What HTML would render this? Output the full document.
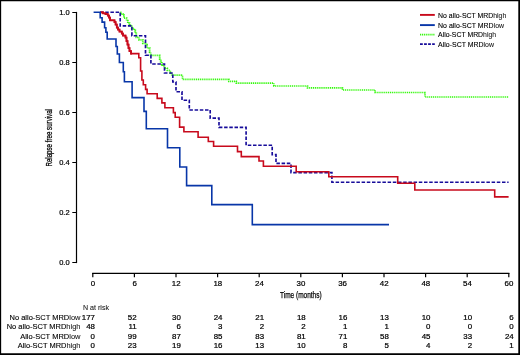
<!DOCTYPE html>
<html><head><meta charset="utf-8">
<style>
html,body{margin:0;padding:0;background:#fff;}
svg{display:block;will-change:transform;}
text{font-family:"Liberation Sans",sans-serif;font-size:7.9px;fill:#000;stroke:#000;stroke-width:0.12px;}
.l{stroke:#222;stroke-width:0.1px;fill:#222;}
.n{stroke-width:0.22px;}
.t{stroke-width:0.25px;}
</style></head>
<body>
<svg width="520" height="355" viewBox="0 0 520 355">
<rect x="0" y="0" width="520" height="355" fill="#fff"/>
<path fill="#000" d="M0,0H520V355H0Z M1.15,1.2V353.2H518.3V1.2Z" fill-rule="evenodd"/>
<g stroke="#000" stroke-width="1.2" fill="none">
<path d="M76.5,11.9 V263.1"/>
<path d="M72.3,12.5 H76.5 M72.3,62.5 H76.5 M72.3,112.5 H76.5 M72.3,162.5 H76.5 M72.3,212.5 H76.5 M72.3,262.5 H76.5"/>
<path d="M92.2,273.4 H509.4" stroke-width="1.15"/>
<path d="M92.8,273 V277.3 M134.4,273 V277.3 M176,273 V277.3 M217.6,273 V277.3 M259.2,273 V277.3 M300.8,273 V277.3 M342.4,273 V277.3 M384,273 V277.3 M425.6,273 V277.3 M467.2,273 V277.3 M508.8,273 V277.3"/>
</g>
<text transform="translate(69.60,15.40) scale(0.950,1)" text-anchor="end" class="n" style="font-size:7.9px">1.0</text>
<text transform="translate(69.60,65.40) scale(0.950,1)" text-anchor="end" class="n" style="font-size:7.9px">0.8</text>
<text transform="translate(69.60,115.40) scale(0.950,1)" text-anchor="end" class="n" style="font-size:7.9px">0.6</text>
<text transform="translate(69.60,165.40) scale(0.950,1)" text-anchor="end" class="n" style="font-size:7.9px">0.4</text>
<text transform="translate(69.60,215.40) scale(0.950,1)" text-anchor="end" class="n" style="font-size:7.9px">0.2</text>
<text transform="translate(69.60,265.40) scale(0.950,1)" text-anchor="end" class="n" style="font-size:7.9px">0.0</text>
<text transform="translate(93.00,286.10) scale(1.000,1)" text-anchor="middle" class="n" style="font-size:7.9px">0</text>
<text transform="translate(134.60,286.10) scale(1.000,1)" text-anchor="middle" class="n" style="font-size:7.9px">6</text>
<text transform="translate(176.20,286.10) scale(1.000,1)" text-anchor="middle" class="n" style="font-size:7.9px">12</text>
<text transform="translate(217.80,286.10) scale(1.000,1)" text-anchor="middle" class="n" style="font-size:7.9px">18</text>
<text transform="translate(259.40,286.10) scale(1.000,1)" text-anchor="middle" class="n" style="font-size:7.9px">24</text>
<text transform="translate(301.00,286.10) scale(1.000,1)" text-anchor="middle" class="n" style="font-size:7.9px">30</text>
<text transform="translate(342.60,286.10) scale(1.000,1)" text-anchor="middle" class="n" style="font-size:7.9px">36</text>
<text transform="translate(384.20,286.10) scale(1.000,1)" text-anchor="middle" class="n" style="font-size:7.9px">42</text>
<text transform="translate(425.80,286.10) scale(1.000,1)" text-anchor="middle" class="n" style="font-size:7.9px">48</text>
<text transform="translate(467.40,286.10) scale(1.000,1)" text-anchor="middle" class="n" style="font-size:7.9px">54</text>
<text transform="translate(509.00,286.10) scale(1.000,1)" text-anchor="middle" class="n" style="font-size:7.9px">60</text>
<text x="300.80" y="298.20" text-anchor="middle" textLength="41.60" lengthAdjust="spacingAndGlyphs" class="t" style="font-size:8.8px">Time (months)</text>
<text transform="translate(52.1,137.8) rotate(-90)" text-anchor="middle" textLength="57.5" lengthAdjust="spacingAndGlyphs" style="font-size:8.8px;stroke-width:0.25px">Relapse free survival</text>
<!-- curves -->
<g fill="none" stroke-linejoin="miter">
<path id="green" stroke="#34f80c" stroke-width="1.8" stroke-dasharray="1.1 0.8" d="M120.3,12.4 H120.6 V13.9 H122.8 V15.2 H124 V18.1 H126.6 V20.7 H127.8 V23.2 H129.5 V25.3 H131.8 V28.5 H134.3 V30.5 H135.3 V33.3 H136.3 V37.3 H139 V39.8 H142.8 V43.4 H146.2 V44.7 H147 V47.9 H149.6 V52 H150.6 V55.3 H159.7 V59 H160.6 V61.5 H161.8 V64.9 H162.7 V66.2 H164.8 V68.3 H167.3 V70.4 H170.3 V72.9 H171.6 V75.2"/>
<path id="green2" stroke="#34f80c" stroke-width="1.7" stroke-dasharray="1.15 0.75" d="M171.6,75.2 H182.5 V79.3 H228.8 V81.3 H236.3 V83.2 H273.8 V86 H307.5 V87.8 H342.5 V90 H375 V92.5 H425 V97 H508.8"/>
<path id="dblue" stroke="#170c9a" stroke-width="1.65" stroke-dasharray="3.5 1.7" d="M100,12.2 H120.2 V25.9 H131.9 V35.7 H145.5 V55.2 H150.9 V64 H164.5 V73 H172.8 V82 H176 V91.7 H182 V100.2 H189.3 V110 H210.2 V118.1 H219 V127.3 H246.1 V145.2 H272.2 V154.6 H276 V163.4 H291 V172.6 H331.9 V182.2 H508.6"/>
<path id="red" stroke="#c80a1c" stroke-width="1.6" d="M100.5,12.4 H103 V13.3 H105.5 V14 H107.8 V15.5 H109 V17.5 H110 V20.3 H114.5 V22 H115.6 V24.5 H116.8 V27.5 H118 V29.5 H119.5 V31.5 H121.8 V33.5 H123 V35.5 H125.5 V37.5 H126.5 V41 H127.5 V44.5 H128.5 V48 H129.5 V51 H131 V53.6 H138.8 V57.8 H140.6 V71 H141.9 V80 H143.3 V84.7 H145.6 V89.4 H147.1 V93.7 H157.2 V98.4 H161.9 V102.9 H164.9 V107.7 H173.4 V112.6 H175.2 V117.3 H179.6 V127.1 H183.9 V131.8 H198.1 V137.2 H208.3 V141.5 H213.6 V146.2 H237.5 V151.6 H241.3 V156.6 H259 V161 H263.4 V166.3 H296.2 V171.7 H328.8 V176.8 H397.7 V183.3 H414.8 V190 H494.7 V196.9 H508.6"/>
<path id="red1" stroke="#c80a1c" stroke-width="1.75" d="M100.5,12.4 H103 V13.3 H105.5 V14 H107.8 V15.5 H109 V17.5 H110 V20.3 H114.5 V22 H115.6 V24.5 H116.8 V27.5 H118 V29.5 H119.5 V31.5 H121.8 V33.5 H123 V35.5 H125.5 V37.5 H126.5 V41 H127.5 V44.5 H128.5 V48 H129.5 V51 H131 V53.6 H132"/>
<path id="blue" stroke="#0836a8" stroke-width="1.6" d="M93.6,12.2 H100.2 V17.7 H102.1 V22.1 H104.6 V27.8 H105.9 V32.2 H107.2 V39 H116 V46.5 H117.3 V54 H119.4 V62.5 H123.3 V71.8 H124.4 V81.7 H132.1 V97.6 H144 V111.4 H146.3 V128.7 H167.5 V147.8 H179.8 V167 H186.6 V185.6 H211.8 V204.6 H252.3 V224.6 H389"/>
</g>

<g fill="none">
<path stroke="#c80a1c" stroke-width="1.9" d="M420,14.9 H434.8"/>
<path stroke="#0836a8" stroke-width="1.9" d="M420,25.1 H434.8"/>
<path stroke="#34f80c" stroke-width="1.7" stroke-dasharray="1.15 0.75" d="M420,34.6 H434.8"/>
<path stroke="#170c9a" stroke-width="1.8" stroke-dasharray="2.8 1.25" d="M420,44.1 H434.8"/>
</g>
<text x="438.10" y="17.50" text-anchor="start" textLength="68.20" lengthAdjust="spacingAndGlyphs" style="font-size:7.8px">No allo-SCT MRD<tspan class="l">high</tspan></text>
<text x="438.10" y="27.60" text-anchor="start" textLength="66.00" lengthAdjust="spacingAndGlyphs" style="font-size:7.8px">No allo-SCT MRD<tspan class="l">low</tspan></text>
<text x="438.10" y="37.40" text-anchor="start" textLength="58.00" lengthAdjust="spacingAndGlyphs" style="font-size:7.8px">Allo-SCT MRD<tspan class="l">high</tspan></text>
<text x="438.10" y="46.60" text-anchor="start" textLength="55.90" lengthAdjust="spacingAndGlyphs" style="font-size:7.8px">Allo-SCT MRD<tspan class="l">low</tspan></text>
<text x="83.00" y="310.30" text-anchor="start" textLength="26.00" lengthAdjust="spacingAndGlyphs" class="l" style="font-size:7.8px">N at risk</text>
<text x="80.50" y="320.00" text-anchor="end" textLength="71.00" lengthAdjust="spacingAndGlyphs">No allo-SCT MRD<tspan class="l">low</tspan></text>
<text x="80.50" y="329.30" text-anchor="end" textLength="73.80" lengthAdjust="spacingAndGlyphs">No allo-SCT MRD<tspan class="l">high</tspan></text>
<text x="80.50" y="338.80" text-anchor="end" textLength="60.30" lengthAdjust="spacingAndGlyphs">Allo-SCT MRD<tspan class="l">low</tspan></text>
<text x="80.50" y="348.40" text-anchor="end" textLength="62.80" lengthAdjust="spacingAndGlyphs">Allo-SCT MRD<tspan class="l">high</tspan></text>
<text transform="translate(95.00,320.00) scale(1.000,1)" text-anchor="end" class="n" style="font-size:7.9px">177</text>
<text transform="translate(136.60,320.00) scale(1.000,1)" text-anchor="end" class="n" style="font-size:7.9px">52</text>
<text transform="translate(180.90,320.00) scale(1.000,1)" text-anchor="end" class="n" style="font-size:7.9px">30</text>
<text transform="translate(222.50,320.00) scale(1.000,1)" text-anchor="end" class="n" style="font-size:7.9px">24</text>
<text transform="translate(264.10,320.00) scale(1.000,1)" text-anchor="end" class="n" style="font-size:7.9px">21</text>
<text transform="translate(305.70,320.00) scale(1.000,1)" text-anchor="end" class="n" style="font-size:7.9px">18</text>
<text transform="translate(347.30,320.00) scale(1.000,1)" text-anchor="end" class="n" style="font-size:7.9px">16</text>
<text transform="translate(388.90,320.00) scale(1.000,1)" text-anchor="end" class="n" style="font-size:7.9px">13</text>
<text transform="translate(430.50,320.00) scale(1.000,1)" text-anchor="end" class="n" style="font-size:7.9px">10</text>
<text transform="translate(472.10,320.00) scale(1.000,1)" text-anchor="end" class="n" style="font-size:7.9px">10</text>
<text transform="translate(513.70,320.00) scale(1.000,1)" text-anchor="end" class="n" style="font-size:7.9px">6</text>
<text transform="translate(95.00,329.30) scale(1.000,1)" text-anchor="end" class="n" style="font-size:7.9px">48</text>
<text transform="translate(136.60,329.30) scale(1.000,1)" text-anchor="end" class="n" style="font-size:7.9px">11</text>
<text transform="translate(180.90,329.30) scale(1.000,1)" text-anchor="end" class="n" style="font-size:7.9px">6</text>
<text transform="translate(222.50,329.30) scale(1.000,1)" text-anchor="end" class="n" style="font-size:7.9px">3</text>
<text transform="translate(264.10,329.30) scale(1.000,1)" text-anchor="end" class="n" style="font-size:7.9px">2</text>
<text transform="translate(305.70,329.30) scale(1.000,1)" text-anchor="end" class="n" style="font-size:7.9px">2</text>
<text transform="translate(347.30,329.30) scale(1.000,1)" text-anchor="end" class="n" style="font-size:7.9px">1</text>
<text transform="translate(388.90,329.30) scale(1.000,1)" text-anchor="end" class="n" style="font-size:7.9px">1</text>
<text transform="translate(430.50,329.30) scale(1.000,1)" text-anchor="end" class="n" style="font-size:7.9px">0</text>
<text transform="translate(472.10,329.30) scale(1.000,1)" text-anchor="end" class="n" style="font-size:7.9px">0</text>
<text transform="translate(513.70,329.30) scale(1.000,1)" text-anchor="end" class="n" style="font-size:7.9px">0</text>
<text transform="translate(95.00,338.80) scale(1.000,1)" text-anchor="end" class="n" style="font-size:7.9px">0</text>
<text transform="translate(136.60,338.80) scale(1.000,1)" text-anchor="end" class="n" style="font-size:7.9px">99</text>
<text transform="translate(180.90,338.80) scale(1.000,1)" text-anchor="end" class="n" style="font-size:7.9px">87</text>
<text transform="translate(222.50,338.80) scale(1.000,1)" text-anchor="end" class="n" style="font-size:7.9px">85</text>
<text transform="translate(264.10,338.80) scale(1.000,1)" text-anchor="end" class="n" style="font-size:7.9px">83</text>
<text transform="translate(305.70,338.80) scale(1.000,1)" text-anchor="end" class="n" style="font-size:7.9px">81</text>
<text transform="translate(347.30,338.80) scale(1.000,1)" text-anchor="end" class="n" style="font-size:7.9px">71</text>
<text transform="translate(388.90,338.80) scale(1.000,1)" text-anchor="end" class="n" style="font-size:7.9px">58</text>
<text transform="translate(430.50,338.80) scale(1.000,1)" text-anchor="end" class="n" style="font-size:7.9px">45</text>
<text transform="translate(472.10,338.80) scale(1.000,1)" text-anchor="end" class="n" style="font-size:7.9px">33</text>
<text transform="translate(513.70,338.80) scale(1.000,1)" text-anchor="end" class="n" style="font-size:7.9px">24</text>
<text transform="translate(95.00,348.40) scale(1.000,1)" text-anchor="end" class="n" style="font-size:7.9px">0</text>
<text transform="translate(136.60,348.40) scale(1.000,1)" text-anchor="end" class="n" style="font-size:7.9px">23</text>
<text transform="translate(180.90,348.40) scale(1.000,1)" text-anchor="end" class="n" style="font-size:7.9px">19</text>
<text transform="translate(222.50,348.40) scale(1.000,1)" text-anchor="end" class="n" style="font-size:7.9px">16</text>
<text transform="translate(264.10,348.40) scale(1.000,1)" text-anchor="end" class="n" style="font-size:7.9px">13</text>
<text transform="translate(305.70,348.40) scale(1.000,1)" text-anchor="end" class="n" style="font-size:7.9px">10</text>
<text transform="translate(347.30,348.40) scale(1.000,1)" text-anchor="end" class="n" style="font-size:7.9px">8</text>
<text transform="translate(388.90,348.40) scale(1.000,1)" text-anchor="end" class="n" style="font-size:7.9px">5</text>
<text transform="translate(430.50,348.40) scale(1.000,1)" text-anchor="end" class="n" style="font-size:7.9px">4</text>
<text transform="translate(472.10,348.40) scale(1.000,1)" text-anchor="end" class="n" style="font-size:7.9px">2</text>
<text transform="translate(513.70,348.40) scale(1.000,1)" text-anchor="end" class="n" style="font-size:7.9px">1</text>
</svg>
</body></html>
